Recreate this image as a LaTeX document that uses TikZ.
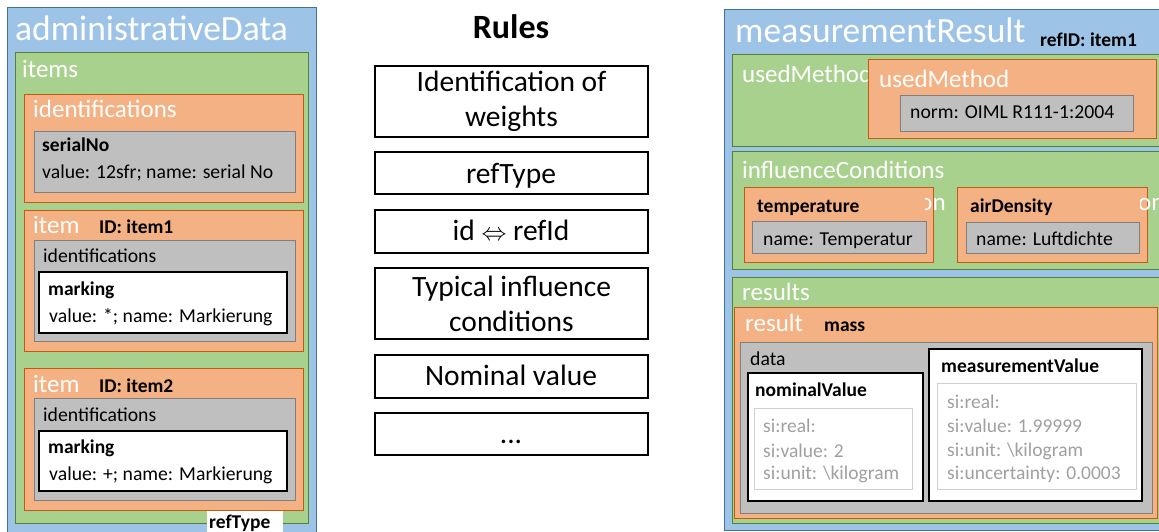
\documentclass[tikz,border=0pt]{standalone}
\usepackage{fontspec}
\setmainfont{Carlito}
\usetikzlibrary{fit}
\definecolor{bfill}{HTML}{9DC3E6}
\definecolor{bline}{HTML}{41719C}
\definecolor{gfill}{HTML}{A9D18E}
\definecolor{gline}{HTML}{538135}
\definecolor{ofill}{HTML}{F4B183}
\definecolor{oline}{HTML}{C55A11}
\definecolor{yfill}{HTML}{BFBFBF}
\definecolor{yline}{HTML}{7F7F7F}
\definecolor{ltline}{HTML}{D0D0D0}
\definecolor{ltext}{HTML}{A0A0A0}
\tikzset{
  bluebox/.style={draw=bline, fill=bfill, line width=1pt, inner sep=0pt},
  greenbox/.style={draw=gline, fill=gfill, line width=1pt, inner sep=0pt},
  orangebox/.style={draw=oline, fill=ofill, line width=1pt, inner sep=0pt},
  graybox/.style={draw=yline, fill=yfill, line width=1pt, inner sep=0pt},
  whitebox/.style={draw=black, fill=white, line width=1.2pt, inner sep=0pt},
  valbox/.style={draw=ltline, fill=white, line width=1pt, inner sep=0pt},
  rulebox/.style={draw=black, line width=2pt, inner sep=0pt, align=center,
    font=\fontsize{29.5}{35}\selectfont},
  ruletext/.style={inner sep=0pt, anchor=base, font=\fontsize{29.5}{35}\selectfont},
  txt/.style={inner sep=0pt, anchor=base west},
  big/.style={txt, text=white, font=\fontsize{35.5}{40}\selectfont},
  lbl/.style={txt, text=white, font=\fontsize{25}{29}\selectfont},
  bd/.style={txt, font=\fontsize{19.5}{23}\selectfont\bfseries},
  nm/.style={txt, font=\fontsize{19.7}{23}\selectfont},
  sv/.style={txt, text=ltext, font=\fontsize{19.5}{23}\selectfont},
}
\begin{document}
\begin{tikzpicture}[x=1pt, y=-1pt]
\useasboundingbox (0,0) rectangle (1159,531);
\clip (0,0) rectangle (1159,531);
% ---------------- left panel
\node[bluebox, fit={(7,7) (316,535)}] (adm) {};
\node[big] (admT) at (15,40) {administrativeData};
\node[greenbox, fit={(15,52) (308,523)}] (items) {};
\node[lbl] (itemsT) at (22,77) {items};
\node[orangebox, fit={(24,94) (303,202)}] (ids) {};
\node[lbl] (idsT) at (33,117) {identifications};
\node[graybox, fit={(34,131) (295,192)}] (ser) {};
\node[bd] (serT) at (42,151) {serialNo};
\node[nm] (serV) at (42,178) {value: 12sfr; name: serial No};
\node[orangebox, fit={(24,210) (303,351)}] (it1) {};
\node[lbl] (it1T) at (33,233) {item};
\node[bd] (it1I) at (99,233) {ID: item1};
\node[graybox, fit={(34,240) (295,341)}] (id1) {};
\node[nm] (id1T) at (43,262) {identifications};
\node[whitebox, fit={(39,272) (287,333)}] (mk1) {};
\node[bd] (mk1T) at (48,295) {marking};
\node[nm] (mk1V) at (49,322) {value: *; name: Markierung};
\node[orangebox, fit={(24,368) (303,510)}] (it2) {};
\node[lbl] (it2T) at (33,392) {item};
\node[bd] (it2I) at (99,392) {ID: item2};
\node[graybox, fit={(34,398) (295,500)}] (id2) {};
\node[nm] (id2T) at (43,421) {identifications};
\node[whitebox, fit={(39,431) (287,491)}] (mk2) {};
\node[bd] (mk2T) at (48,453) {marking};
\node[nm] (mk2V) at (49,480) {value: +; name: Markierung};
\node[fill=white, inner sep=0pt, fit={(207,511) (283,535)}] (rt) {};
\node[bd] (rtT) at (209,528) {refType};
% ---------------- rules
\node[inner sep=0pt, font=\fontsize{34}{40}\selectfont\bfseries, anchor=base] (rules) at (511,38) {Rules};
\node[rulebox, minimum width=273pt, minimum height=71pt, anchor=north west] (r1) at (374,65) {Identification of\\weights};
\node[rulebox, minimum width=273pt, minimum height=42pt, anchor=north west] (r2) at (374,151) {};
\node[ruletext] (r2T) at (511,183) {refType};
\node[rulebox, minimum width=273pt, minimum height=43pt, anchor=north west] (r3) at (374,209) {};
\node[ruletext] (r3T) at (511,240) {id $\Leftrightarrow$ refId};
\node[rulebox, minimum width=273pt, minimum height=71pt, anchor=north west] (r4) at (374,267) {Typical influence\\conditions};
\node[rulebox, minimum width=273pt, minimum height=43pt, anchor=north west] (r5) at (374,354) {};
\node[ruletext] (r5T) at (511,385) {Nominal value};
\node[rulebox, minimum width=273pt, minimum height=42pt, anchor=north west] (r6) at (374,412) {};
\node[ruletext] (r6T) at (511,443) {...};
% ---------------- right panel
\node[bluebox, fit={(724,9) (1170,530)}] (mr) {};
\node[big] (mrT) at (735,42) {measurementResult};
\node[bd, font=\fontsize{19.5}{22}\selectfont\bfseries] (mrI) at (1040,46) {refID: item1};
\node[greenbox, fit={(732,54) (1170,146)}] (um) {};
\node[lbl] (umT) at (742,82) {usedMethod};
\node[orangebox, fit={(868,59) (1156,138)}] (um2) {};
\node[lbl] (um2T) at (879,87) {usedMethod};
\node[graybox, fit={(900,95) (1133,131)}] (norm) {};
\node[nm] (normT) at (910,118) {norm: OIML R111-1:2004};
\node[greenbox, fit={(732,151) (1170,269)}] (ic) {};
\node[lbl] (icT) at (742,178) {influenceConditions};
\node[orangebox, fit={(744,187) (933,262)}] (tp) {};
\begin{scope}
\clip (925,185) rectangle (960,225);
\node[lbl, anchor=base east] (frag1) at (946,210) {on};
\end{scope}
\node[bd] (tpT) at (757,212) {temperature};
\node[graybox, fit={(752,221) (926,253)}] (tpN) {};
\node[nm] (tpV) at (763,245) {name: Temperatur};
\node[orangebox, fit={(957,187) (1147,262)}] (ad) {};
\begin{scope}
\clip (1140,185) rectangle (1170,225);
\node[lbl, anchor=base west] (frag2) at (1138,210) {on};
\end{scope}
\node[bd] (adT) at (970,212) {airDensity};
\node[graybox, fit={(966,222) (1139,253)}] (adN) {};
\node[nm] (adV) at (976,245) {name: Luftdichte};
\node[greenbox, fit={(732,277) (1170,523)}] (rs) {};
\node[lbl] (rsT) at (742,300) {results};
\node[orangebox, fit={(734,307) (1157,518)}] (r) {};
\node[lbl] (rT) at (745,331) {result};
\node[bd] (rM) at (824,331) {mass};
\node[graybox, fit={(740,342) (1152,513)}] (data) {};
\node[nm] (dataT) at (750,365) {data};
\node[whitebox, fit={(748,373) (923,501)}] (nv) {};
\node[bd] (nvT) at (755,396) {nominalValue};
\node[valbox, fit={(754,408) (912,489)}] (nvB) {};
\node[sv] (nv1) at (763,432) {si:real:};
\node[sv] (nv2) at (763,457) {si:value: 2};
\node[sv] (nv3) at (763,479) {si:unit: \textbackslash kilogram};
\node[whitebox, fit={(929,349) (1142,501)}] (mv) {};
\node[bd] (mvT) at (941,372) {measurementValue};
\node[valbox, fit={(937,383) (1136,489)}] (mvB) {};
\node[sv] (mv1) at (947,408) {si:real:};
\node[sv] (mv2) at (947,432) {si:value: 1.99999};
\node[sv] (mv3) at (947,456) {si:unit: \textbackslash kilogram};
\node[sv] (mv4) at (947,479) {si:uncertainty: 0.0003};
\end{tikzpicture}
\end{document}
